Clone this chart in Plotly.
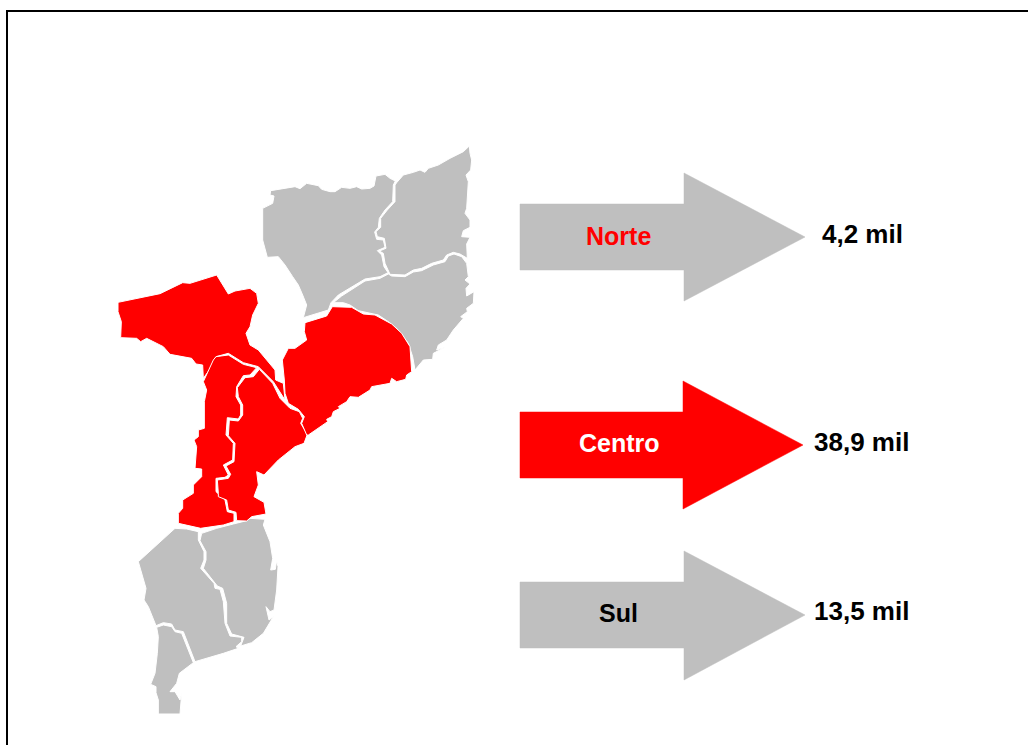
import plotly.graph_objects as go

crop_north = (250, 140)
crop_zambezia = (255, 300)
crop_centre = (110, 265)
crop_south = (130, 510)

niassa = [(62,152),(135,140),(150,146),(170,130),(205,137),(215,148),(240,155),(255,155),(275,142),(300,145),
          (320,140),(335,147),(360,145),(372,138),(378,108),(405,103),(420,115),(436,123),(430,135),(428,185),
          (405,210),(388,235),(385,262),(374,276),(380,298),(400,300),(405,322),(382,332),(395,345),(402,380),
          (414,398),(390,410),(345,417),(300,445),(265,465),(243,488),(235,510),(160,533),(170,495),(158,465),
          (145,435),(128,410),(105,375),(85,350),(52,352),(38,300),(38,205),(68,190),(72,168),(60,165)]
cabo_delgado = [(440,128),(460,105),(490,97),(510,90),(525,97),(535,85),(565,75),(600,55),(640,35),(658,18),
                (660,40),(665,60),(662,90),(648,105),(655,125),(652,160),(650,205),(645,220),(660,240),(660,262),
                (640,272),(635,290),(660,292),(650,312),(652,355),(630,342),(610,337),(590,345),(580,360),(545,370),
                (515,385),(490,390),(465,405),(420,403),(405,370),(400,340),(388,333),(408,325),(403,295),(382,290),
                (378,275),(392,262),(392,235),(412,210),(435,185),(435,135)]
nampula = [(275,468),(300,452),(345,423),(390,415),(415,402),(425,408),(465,410),(490,396),(515,392),(550,375),
           (585,365),(595,348),(612,342),(635,350),(650,370),(655,410),(645,420),(660,432),(648,445),(650,468),
           (672,455),(670,490),(650,505),(652,515),(632,530),(640,535),(610,570),(590,600),(565,615),(560,630),
           (585,622),(550,640),(548,658),(520,660),(495,690),(488,650),(475,610),(440,565),(415,545),(385,525),
           (350,518),(325,512),(300,495),(280,488),(250,488)]
zambezia = [(150,68),(215,48),(232,20),(290,22),(325,42),(360,45),(410,72),(440,100),(465,140),(470,215),
            (455,225),(452,238),(425,245),(410,235),(405,250),(370,255),(350,260),(345,270),(310,292),(285,290),
            (275,305),(250,320),(255,325),(235,335),(230,350),(215,358),(218,365),(160,405),(155,405),(140,370),
            (148,350),(130,328),(100,310),(90,280),(88,240),(82,180),(100,145),(120,145),(155,120),(148,95)]
tete = [(24,112),(150,86),(218,53),(240,55),(320,30),(355,87),(375,78),(420,70),(440,85),(445,115),
        (428,150),(420,185),(408,205),(420,240),(445,255),(495,315),(497,345),(520,355),(525,405),(490,350),
        (445,305),(400,293),(355,265),(318,275),(305,305),(280,340),(278,300),(258,297),(245,280),(180,268),
        (160,245),(110,220),(92,230),(80,220),(32,218),(34,170),(24,140)]
manica = [(355,270),(400,298),(440,308),(420,330),(400,332),(380,365),(378,395),(392,420),(392,450),(385,462),
          (352,458),(348,510),(370,535),(368,585),(340,600),(355,630),(345,637),(318,640),(318,680),(345,705),
          (352,740),(372,745),(372,770),(340,780),(272,790),(205,775),(205,745),(218,730),(218,705),(250,685),
          (250,660),(275,635),(275,612),(255,610),(260,545),(252,525),(265,515),(265,495),(283,490),(283,410),
          (290,375),(280,350),(310,285),(318,275)]
sofala = [(448,313),(488,355),(510,400),(540,430),(568,440),(578,460),(572,475),(592,508),(582,535),(555,545),
          (505,585),(462,630),(440,620),(445,660),(432,695),(462,712),(468,747),(425,755),(410,768),(380,767),
          (378,742),(355,735),(350,705),(325,695),(325,685),(322,645),(355,640),(362,628),(348,603),(372,590),
          (375,535),(355,512),(358,465),(385,468),(398,450),(398,420),(385,395),(382,368),(405,338),(430,335)]
gaza = [(135,55),(170,57),(205,65),(205,90),(222,125),(222,150),(212,175),(252,220),(255,235),(270,238),
        (280,275),(285,340),(300,378),(335,382),(335,395),(318,410),(325,415),(280,430),(195,455),(175,405),
        (160,365),(135,360),(125,342),(100,338),(78,347),(55,290),(42,270),(48,235),(25,155)]
inhambane = [(215,70),(260,55),(310,42),(350,32),(360,25),(405,28),(400,45),(420,95),(428,145),(422,180),
             (436,178),(440,152),(444,170),(440,240),(432,300),(420,305),(408,290),(417,330),(430,320),(400,370),
             (365,398),(332,408),(342,382),(305,372),(290,340),(290,280),(278,235),(262,228),(220,175),(228,150),
             (228,125),(210,92)]
maputo = [(80,352),(100,345),(125,350),(135,365),(155,370),(170,410),(190,458),(148,490),(140,520),(120,545),
          (135,545),(150,570),(155,550),(150,612),(85,612),(85,570),(78,548),(78,530),(62,523),(75,490),
          (82,430),(85,380)]

provinces = [
    (niassa, crop_north, "grey"), (cabo_delgado, crop_north, "grey"), (nampula, crop_north, "grey"),
    (gaza, crop_south, "grey"), (inhambane, crop_south, "grey"), (maputo, crop_south, "grey"),
    (tete, crop_centre, "red"), (manica, crop_centre, "red"), (sofala, crop_centre, "red"),
    (zambezia, crop_zambezia, "red"),
]

# region arrows
regions = ["Norte", "Centro", "Sul"]
values = ["4,2 mil", "38,9 mil", "13,5 mil"]
arrow_x = [[520, 684, 684, 805, 684, 684, 520], [520, 683, 683, 803, 683, 683, 520], [520, 684, 684, 805, 684, 684, 520]]
arrow_y = [[204, 204, 173, 237, 301, 270, 270], [412, 412, 381, 445, 509, 478, 478], [582, 582, 551, 615, 680, 648, 648]]
arrow_colors = ["grey", "red", "grey"]
region_colors = ["#ff0000", "#ffffff", "#000000"]
region_x = [618, 619, 618]
region_y = [236, 443, 613]
value_x = [862, 861, 861]
value_y = [234, 442, 611]

palette = {"grey": "#bfbfbf", "red": "#ff0000"}
font_family = "Liberation Sans"

fig = go.Figure()

for points, crop, color in provinces:
    xs = [crop[0] + p[0] / 3 for p in points]
    ys = [crop[1] + p[1] / 3 for p in points]
    fig.add_trace(go.Scatter(x=xs + xs[:1], y=ys + ys[:1], mode="lines", fill="toself",
                             fillcolor=palette[color], line=dict(color="#ffffff", width=1),
                             hoverinfo="skip"))

for i in range(3):
    fig.add_trace(go.Scatter(x=arrow_x[i] + arrow_x[i][:1], y=arrow_y[i] + arrow_y[i][:1], mode="lines",
                             fill="toself", fillcolor=palette[arrow_colors[i]],
                             line=dict(color=palette[arrow_colors[i]], width=0.5), hoverinfo="skip"))
    fig.add_annotation(x=region_x[i], y=region_y[i], text="<b>" + regions[i] + "</b>", showarrow=False,
                       font=dict(family=font_family, size=25, color=region_colors[i]))
    fig.add_annotation(x=value_x[i], y=value_y[i], text="<b>" + values[i] + "</b>", showarrow=False,
                       font=dict(family=font_family, size=26, color="#000000"))

# frame: only the left and top edges show
fig.add_shape(type="line", x0=7, x1=7, y0=11, y1=745, line=dict(color="#000000", width=2))
fig.add_shape(type="line", x0=6, x1=1028, y0=11, y1=11, line=dict(color="#000000", width=2))

fig.update_xaxes(range=[0, 1028], visible=False)
fig.update_yaxes(range=[745, 0], visible=False)
fig.update_layout(width=1028, height=745, margin=dict(l=0, r=0, t=0, b=0), showlegend=False,
                  plot_bgcolor="#ffffff", paper_bgcolor="#ffffff")
# the page's default body margin would push the figure 8px off
fig.write_html("out.html", config={"displayModeBar": False},
               post_script="document.body.style.margin = '0'; document.body.style.overflow = 'hidden';")
